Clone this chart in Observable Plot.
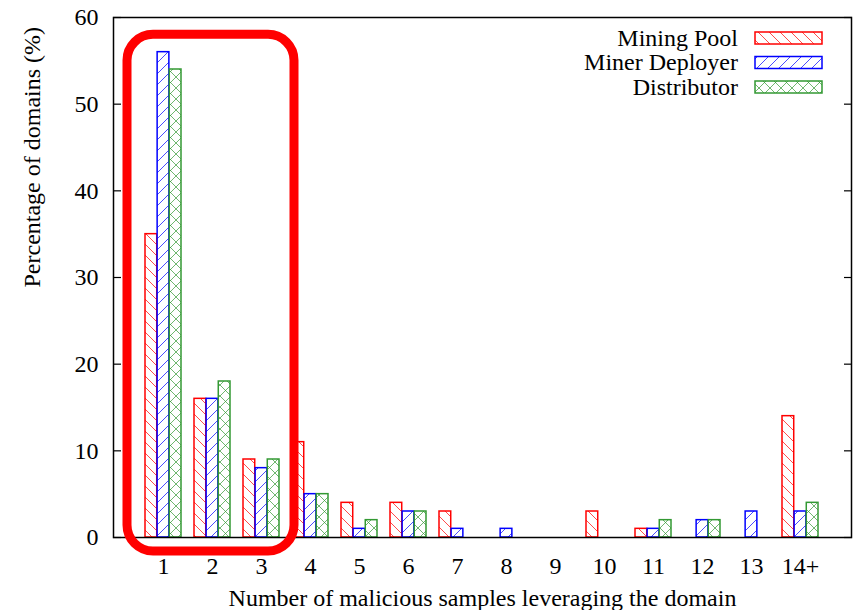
<!DOCTYPE html>
<html>
<head>
<meta charset="utf-8">
<script src="https://cdn.jsdelivr.net/npm/d3@7"></script>
<script src="https://cdn.jsdelivr.net/npm/@observablehq/plot@0.6"></script>
<style>
  body { margin: 0; background: #fff; }
  svg { display: block; }
  svg text { font-family: "Liberation Serif", "DejaVu Serif", serif !important; }
</style>
</head>
<body>
<div id="chart"></div>
<script>
// Categories on the x axis: number of malicious samples using a domain
const categories = ["1", "2", "3", "4", "5", "6", "7", "8", "9", "10", "11", "12", "13", "14+"];
const series = ["Mining Pool", "Miner Deployer", "Distributor"];

// Percentage of domains per category, one array per series
const miningPool    = [35, 16, 9, 11, 4, 4, 3, 0, 0, 3, 1, 0, 0, 14];
const minerDeployer = [56, 16, 8, 5, 1, 3, 1, 1, 0, 0, 1, 2, 3, 3];
const distributor   = [54, 18, 9, 5, 2, 3, 0, 0, 0, 0, 2, 2, 0, 4];

const yTicks = [0, 10, 20, 30, 40, 50, 60];
const highlighted = ["1", "3"];
const xTitle = "Number of malicious samples leveraging the domain";
const yTitle = "Percentage of domains (%)";

const colors = ["#ff0000", "#0000ff", "#339933"];
const patternIds = ["hatch-down", "hatch-up", "cross-hatch"];

const values = [miningPool, minerDeployer, distributor];
const tables = values.map((vals, i) =>
  categories.map((c, j) => ({category: c, series: series[i], value: vals[j]}))
);

const W = 856, H = 610;
const mL = 113, mR = 5, mT = 17, mB = 73;
const font = "Liberation Serif, DejaVu Serif, serif";

const xOptions = {type: "band", domain: categories, paddingInner: 0.26, paddingOuter: 0.63};
const xProbe = Plot.scale({x: {...xOptions, range: [mL, W - mR]}});
const third = xProbe.bandwidth / 3;

// one bar mark per series, each taking a third of the category band
const barMarks = series.map((name, i) =>
  Plot.barY(tables[i], {
    filter: d => d.value > 0,
    x: "category",
    y: "value",
    fill: `url(#${patternIds[i]})`,
    stroke: colors[i],
    strokeWidth: 1.5,
    insetLeft: i * third,
    insetRight: (2 - i) * third
  })
);

const plot = Plot.plot({
  width: W,
  height: H,
  marginLeft: mL,
  marginRight: mR,
  marginTop: mT,
  marginBottom: mB,
  style: {fontFamily: font, fontSize: "24px", color: "#000", background: "#fff"},
  x: {...xOptions, label: null},
  y: {domain: [0, 60], label: null},
  marks: [
    ...barMarks,
    Plot.frame({stroke: "#000", strokeWidth: 1.5}),
    Plot.axisY(yTicks, {anchor: "left", tickSize: -8, tickPadding: 23, label: null, strokeWidth: 1.2}),
    Plot.axisY(yTicks, {anchor: "right", tickSize: -8, tickFormat: () => "", label: null, strokeWidth: 1.2}),
    Plot.axisX({anchor: "bottom", tickSize: 0, tickPadding: 19, label: null}),
    Plot.text([xTitle], {text: d => d, frameAnchor: "bottom", dy: 68, fill: "#000"}),
    Plot.text([yTitle], {text: d => d, frameAnchor: "left", dx: -81, dy: 10, rotate: -90, fill: "#000"})
  ]
});

document.getElementById("chart").appendChild(plot);

const svg = d3.select(plot);

// hatch patterns for the bar fills
const defs = svg.insert("defs", ":first-child");
const s = 11;
const patternPaths = [
  [`M-1,${s - 1} l2,2 M0,0 l${s},${s} M${s - 1},-1 l2,2`],
  [`M-1,1 l2,-2 M0,${s} l${s},${-s} M${s - 1},${s + 1} l2,-2`],
  [`M-1,${s - 1} l2,2 M0,0 l${s},${s} M${s - 1},-1 l2,2`, `M-1,1 l2,-2 M0,${s} l${s},${-s} M${s - 1},${s + 1} l2,-2`]
];
patternIds.forEach((id, i) => {
  const p = defs.append("pattern")
    .attr("id", id)
    .attr("patternUnits", "userSpaceOnUse")
    .attr("width", s)
    .attr("height", s);
  p.append("rect").attr("width", s).attr("height", s).attr("fill", "#fff");
  patternPaths[i].forEach(d => {
    p.append("path").attr("d", d)
      .attr("stroke", colors[i])
      .attr("stroke-opacity", 0.7)
      .attr("stroke-width", 1)
      .attr("fill", "none");
  });
});

// legend in the top-right corner of the frame
const legend = svg.append("g").attr("font-family", font).attr("font-size", 24);
const swatchRight = W - mR - 29, swatchW = 67, swatchH = 12;
series.forEach((name, i) => {
  const cy = mT + 21 + i * 24.5;
  legend.append("text")
    .attr("x", swatchRight - swatchW - 17)
    .attr("y", cy)
    .attr("dy", "0.32em")
    .attr("text-anchor", "end")
    .attr("fill", "#000")
    .text(name);
  legend.append("rect")
    .attr("x", swatchRight - swatchW)
    .attr("y", cy - swatchH / 2)
    .attr("width", swatchW)
    .attr("height", swatchH)
    .attr("fill", `url(#${patternIds[i]})`)
    .attr("stroke", colors[i])
    .attr("stroke-width", 1.5);
});

// rounded highlight box around the first three categories
const xs = plot.scale("x"), ys = plot.scale("y");
const bx0 = xs.apply(highlighted[0]) - 18;
const bx1 = xs.apply(highlighted[1]) + xs.bandwidth + 15;
const by0 = ys.apply(58);
const by1 = ys.apply(0) + 14;
svg.append("rect")
  .attr("x", bx0)
  .attr("y", by0)
  .attr("width", bx1 - bx0)
  .attr("height", by1 - by0)
  .attr("rx", 26)
  .attr("ry", 26)
  .attr("fill", "none")
  .attr("stroke", "#ff0000")
  .attr("stroke-width", 9);
</script>
</body>
</html>
